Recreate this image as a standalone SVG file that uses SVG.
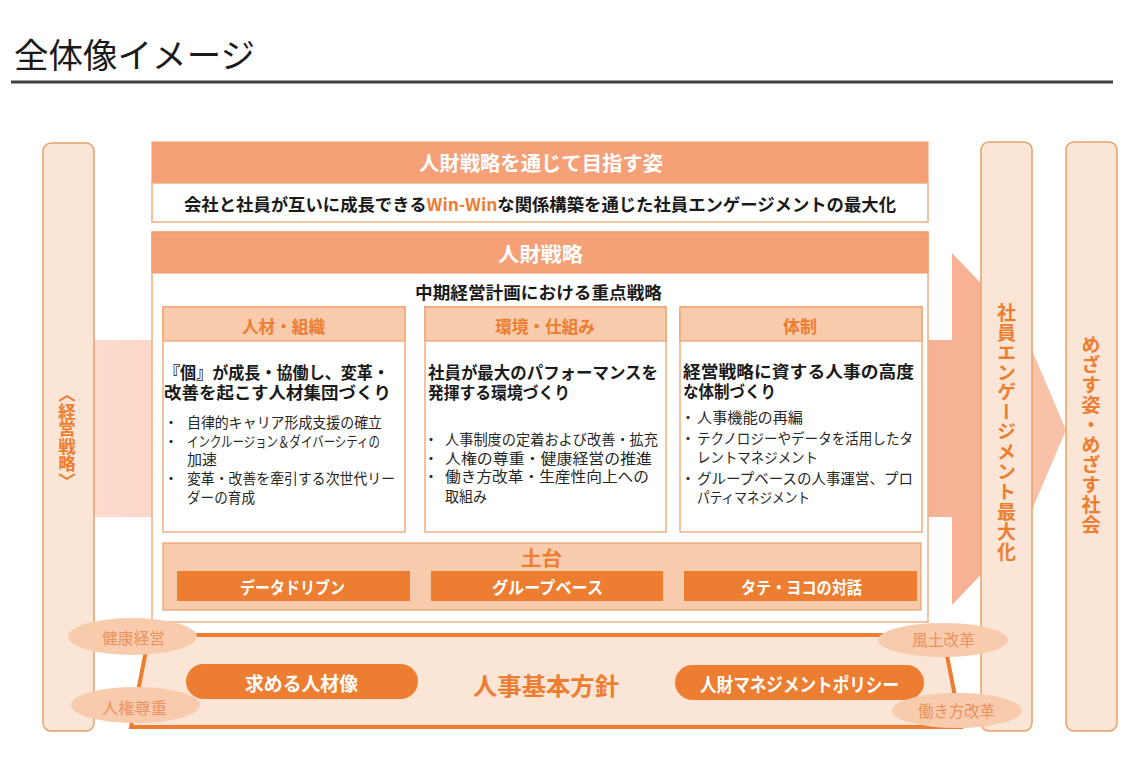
<svg xmlns="http://www.w3.org/2000/svg" width="1125" height="780" viewBox="0 0 1125 780">
<defs>
<linearGradient id="bandGrad" x1="94" y1="0" x2="990" y2="0" gradientUnits="userSpaceOnUse">
<stop offset="0" stop-color="#fcdacd"/>
<stop offset="1" stop-color="#f7b092"/>
</linearGradient>
<style>
text{font-family:"Noto Sans CJK JP","Noto Sans CJK SC",sans-serif;dominant-baseline:central}
.b{font-weight:700}
.w{fill:#ffffff}
.o{fill:#ed7d31}
.k{fill:#1a1a1a}
.g{fill:#262626}
.bar{fill:#fbe5d6;stroke:#e9a06b;stroke-width:1.5}
.hdr{fill:#f5a077;stroke:#ef9a6a;stroke-width:1}
.box{fill:#ffffff;stroke:#f2ae82;stroke-width:1.5}
.ch{fill:#f8cbad;stroke:#eea06c;stroke-width:1.2}
.ob{fill:#ed7d31}
.ell{fill:#f8cbad}
.et{fill:#ea9260;font-size:16px}
.vt{writing-mode:vertical-rl;font-weight:700;fill:#ed7d31}
.hd{font-size:16.5px;font-weight:700;fill:#1a1a1a}
.bl{font-size:14.5px;fill:#262626}
</style>
</defs>
<rect width="1125" height="780" fill="#ffffff"/>

<g id="title">
<text x="14" y="53" font-size="34" class="k" textLength="241" lengthAdjust="spacingAndGlyphs">全体像イメージ</text>
<line x1="11" y1="82" x2="1113" y2="82" stroke="#404040" stroke-width="3"/>
</g>

<g id="connectors">
<polygon points="94,340 952,340 952,253 992,295 992,563 952,605 952,517 94,517" fill="url(#bandGrad)"/>
<polygon points="1032,350 1066,430 1032,510" fill="#f8c2a8"/>
</g>

<g id="keiei-senryaku">
<rect class="bar" x="43" y="143" width="51" height="588" rx="8"/>
<text class="vt" x="67" y="437.5" font-size="17.5" text-anchor="middle">〈経営戦略〉</text>
</g>

<g id="engagement">
<rect class="bar" x="981" y="142" width="51" height="589" rx="8"/>
<text class="vt" x="1006.5" y="432.5" font-size="19" letter-spacing="0.9" text-anchor="middle">社員エンゲージメント最大化</text>
</g>

<g id="mezasu">
<rect class="bar" x="1066" y="142" width="51" height="589" rx="8"/>
<text class="vt" x="1091" y="435" font-size="19" letter-spacing="1" text-anchor="middle">めざす姿・めざす社会</text>
</g>

<g id="goal">
<rect class="hdr" x="152" y="142" width="776" height="41"/>
<text x="541" y="162" font-size="20" class="b w" text-anchor="middle" textLength="244" lengthAdjust="spacingAndGlyphs">人財戦略を通じて目指す姿</text>
<rect class="box" x="152" y="183" width="776" height="39"/>
<text x="184" y="203" font-size="17.5" class="b k" textLength="712" lengthAdjust="spacingAndGlyphs">会社と社員が互いに成長できる<tspan class="o">Win-Win</tspan>な関係構築を通じた社員エンゲージメントの最大化</text>
</g>

<g id="jinzai-senryaku">
<rect class="box" x="152" y="232" width="776" height="390"/>
<rect class="hdr" x="152" y="232" width="776" height="41"/>
<text x="540.5" y="253" font-size="20" class="b w" text-anchor="middle" textLength="85" lengthAdjust="spacingAndGlyphs">人財戦略</text>
<text x="415" y="291.5" class="hd" font-size="17.5" textLength="247" lengthAdjust="spacingAndGlyphs">中期経営計画における重点戦略</text>
</g>

<g id="col-jinzai">
<rect class="box" x="163" y="307" width="242" height="225"/>
<rect class="ch" x="163" y="307" width="242" height="34"/>
<text x="283.5" y="325" font-size="17" class="b o" text-anchor="middle" textLength="83" lengthAdjust="spacingAndGlyphs">人材・組織</text>
<text x="164" y="372" class="hd" textLength="225" lengthAdjust="spacingAndGlyphs">『個』が成長・協働し、変革・</text>
<text x="164" y="391.5" class="hd" textLength="227" lengthAdjust="spacingAndGlyphs">改善を起こす人材集団づくり</text>
<text x="171" y="421.5" class="bl" text-anchor="middle">・</text>
<text x="187" y="421.5" class="bl" textLength="195" lengthAdjust="spacingAndGlyphs">自律的キャリア形成支援の確立</text>
<text x="171" y="440.5" class="bl" text-anchor="middle">・</text>
<text x="187" y="440.5" class="bl" textLength="193" lengthAdjust="spacingAndGlyphs">インクルージョン＆ダイバーシティの</text>
<text x="187" y="458.5" class="bl" textLength="30" lengthAdjust="spacingAndGlyphs">加速</text>
<text x="171" y="477.5" class="bl" text-anchor="middle">・</text>
<text x="187" y="477.5" class="bl" textLength="208" lengthAdjust="spacingAndGlyphs">変革・改善を牽引する次世代リー</text>
<text x="187" y="496" class="bl" textLength="68" lengthAdjust="spacingAndGlyphs">ダーの育成</text>
</g>

<g id="col-kankyo">
<rect class="box" x="425" y="307" width="241" height="225"/>
<rect class="ch" x="425" y="307" width="241" height="34"/>
<text x="545" y="325" font-size="17" class="b o" text-anchor="middle" textLength="100" lengthAdjust="spacingAndGlyphs">環境・仕組み</text>
<text x="428" y="372" class="hd" textLength="230" lengthAdjust="spacingAndGlyphs">社員が最大のパフォーマンスを</text>
<text x="428" y="391.5" class="hd" textLength="142" lengthAdjust="spacingAndGlyphs">発揮する環境づくり</text>
<text x="431" y="438" class="bl" text-anchor="middle">・</text>
<text x="445" y="438" class="bl" font-size="13.5" textLength="213" lengthAdjust="spacingAndGlyphs">人事制度の定着および改善・拡充</text>
<text x="431" y="457" class="bl" text-anchor="middle">・</text>
<text x="445" y="457" class="bl" font-size="15.5" textLength="207" lengthAdjust="spacingAndGlyphs">人権の尊重・健康経営の推進</text>
<text x="431" y="475" class="bl" text-anchor="middle">・</text>
<text x="445" y="475" class="bl" font-size="15.5" textLength="204" lengthAdjust="spacingAndGlyphs">働き方改革・生産性向上への</text>
<text x="445" y="495" class="bl" font-size="15.5" textLength="42" lengthAdjust="spacingAndGlyphs">取組み</text>
</g>

<g id="col-taisei">
<rect class="box" x="680" y="307" width="242" height="225"/>
<rect class="ch" x="680" y="307" width="242" height="34"/>
<text x="800" y="325" font-size="17" class="b o" text-anchor="middle" textLength="34" lengthAdjust="spacingAndGlyphs">体制</text>
<text x="683" y="371" class="hd" textLength="231" lengthAdjust="spacingAndGlyphs">経営戦略に資する人事の高度</text>
<text x="683" y="391" class="hd" textLength="93" lengthAdjust="spacingAndGlyphs">な体制づくり</text>
<text x="688" y="416" class="bl" text-anchor="middle">・</text>
<text x="697" y="416" class="bl" textLength="106" lengthAdjust="spacingAndGlyphs">人事機能の再編</text>
<text x="688" y="437" class="bl" text-anchor="middle">・</text>
<text x="697" y="437" class="bl" textLength="216" lengthAdjust="spacingAndGlyphs">テクノロジーやデータを活用したタ</text>
<text x="697" y="456" class="bl" textLength="121" lengthAdjust="spacingAndGlyphs">レントマネジメント</text>
<text x="688" y="477" class="bl" text-anchor="middle">・</text>
<text x="697" y="477" class="bl" textLength="216" lengthAdjust="spacingAndGlyphs">グループベースの人事運営、プロ</text>
<text x="697" y="496" class="bl" textLength="113" lengthAdjust="spacingAndGlyphs">パティマネジメント</text>
</g>

<g id="dodai">
<rect class="ch" x="163" y="543" width="758" height="67"/>
<text x="541.5" y="557.5" font-size="20" class="b o" text-anchor="middle" textLength="41" lengthAdjust="spacingAndGlyphs">土台</text>
<rect class="ob" x="177" y="571" width="233" height="30"/>
<text x="292.5" y="586" font-size="17" class="b w" text-anchor="middle" textLength="105" lengthAdjust="spacingAndGlyphs">データドリブン</text>
<rect class="ob" x="431" y="571" width="232" height="30"/>
<text x="547.5" y="586" font-size="17" class="b w" text-anchor="middle" textLength="111" lengthAdjust="spacingAndGlyphs">グループベース</text>
<rect class="ob" x="684" y="571" width="233" height="30"/>
<text x="801.5" y="586" font-size="17" class="b w" text-anchor="middle" textLength="121" lengthAdjust="spacingAndGlyphs">タテ・ヨコの対話</text>
</g>

<g id="jinji-kihon-hoshin">
<polygon points="149,635 943,635 961,727 131,727" fill="#fbe5d6" stroke="#ed7d31" stroke-width="4" stroke-linejoin="miter"/>
<text x="546" y="684" font-size="24" class="b o" text-anchor="middle" textLength="146" lengthAdjust="spacingAndGlyphs">人事基本方針</text>
</g>

<g id="motomeru-jinzaizo">
<rect class="ob" x="186" y="664" width="232" height="35" rx="17.5"/>
<text x="301.5" y="682.5" font-size="19" class="b w" text-anchor="middle" textLength="113" lengthAdjust="spacingAndGlyphs">求める人材像</text>
</g>

<g id="jinzai-management-policy">
<rect class="ob" x="675" y="665" width="249" height="35" rx="17.5"/>
<text x="799.5" y="683" font-size="19" class="b w" text-anchor="middle" textLength="199" lengthAdjust="spacingAndGlyphs">人財マネジメントポリシー</text>
</g>

<g id="kenko-keiei">
<ellipse class="ell" cx="132.5" cy="636.5" rx="64.5" ry="18.5"/>
<text x="133.5" y="637" class="et" text-anchor="middle" textLength="63" lengthAdjust="spacingAndGlyphs">健康経営</text>
</g>
<g id="jinken-soncho">
<ellipse class="ell" cx="135.5" cy="705" rx="64.5" ry="18"/>
<text x="134.5" y="707" class="et" text-anchor="middle" textLength="65" lengthAdjust="spacingAndGlyphs">人権尊重</text>
</g>
<g id="fudo-kaikaku">
<ellipse class="ell" cx="943" cy="640" rx="65" ry="17"/>
<text x="943.5" y="639" class="et" text-anchor="middle" textLength="63" lengthAdjust="spacingAndGlyphs">風土改革</text>
</g>
<g id="hatarakikata-kaikaku">
<ellipse class="ell" cx="957" cy="710.5" rx="65" ry="17.5"/>
<text x="956.5" y="710" class="et" text-anchor="middle" textLength="77" lengthAdjust="spacingAndGlyphs">働き方改革</text>
</g>
</svg>
